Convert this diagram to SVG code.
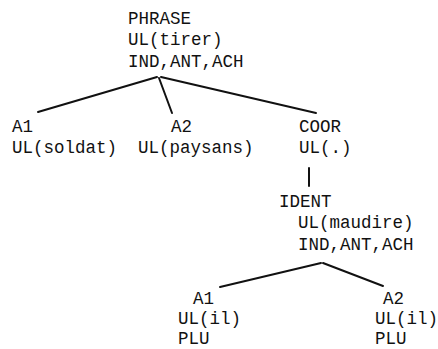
<svg xmlns="http://www.w3.org/2000/svg" width="438" height="349" viewBox="0 0 438 349">
<style>
text{font-family:"Liberation Mono","Courier New",monospace;font-size:17.5px;fill:#111}
.e{stroke:#111;stroke-width:2;fill:none;stroke-linecap:round}
</style>
<rect width="438" height="349" fill="#fff"/>
<g id="connectors">
<line class="e" x1="157" y1="77" x2="38" y2="112"/>
<line class="e" x1="159" y1="78" x2="172" y2="113"/>
<line class="e" x1="161" y1="77" x2="316" y2="113"/>
<line class="e" x1="309" y1="168" x2="309" y2="186"/>
<line class="e" x1="321" y1="263" x2="220" y2="287"/>
<line class="e" x1="323" y1="263" x2="383" y2="286"/>
</g>
<g id="phrase">
<text x="128" y="24">PHRASE</text>
<text x="128" y="45">UL(tirer)</text>
<text x="128" y="67">IND,ANT,ACH</text>
</g>
<g id="a1-top">
<text x="12" y="132">A1</text>
<text x="12" y="153">UL(soldat)</text>
</g>
<g id="a2-top">
<text x="171" y="132">A2</text>
<text x="138" y="153">UL(paysans)</text>
</g>
<g id="coor">
<text x="299" y="132">COOR</text>
<text x="299" y="153">UL(.)</text>
</g>
<g id="ident">
<text x="279" y="207">IDENT</text>
<text x="298" y="228">UL(maudire)</text>
<text x="298" y="250">IND,ANT,ACH</text>
</g>
<g id="a1-bottom">
<text x="193" y="304">A1</text>
<text x="178" y="324">UL(il)</text>
<text x="178" y="344">PLU</text>
</g>
<g id="a2-bottom">
<text x="383" y="304">A2</text>
<text x="375" y="324">UL(il)</text>
<text x="375" y="344">PLU</text>
</g>
</svg>
